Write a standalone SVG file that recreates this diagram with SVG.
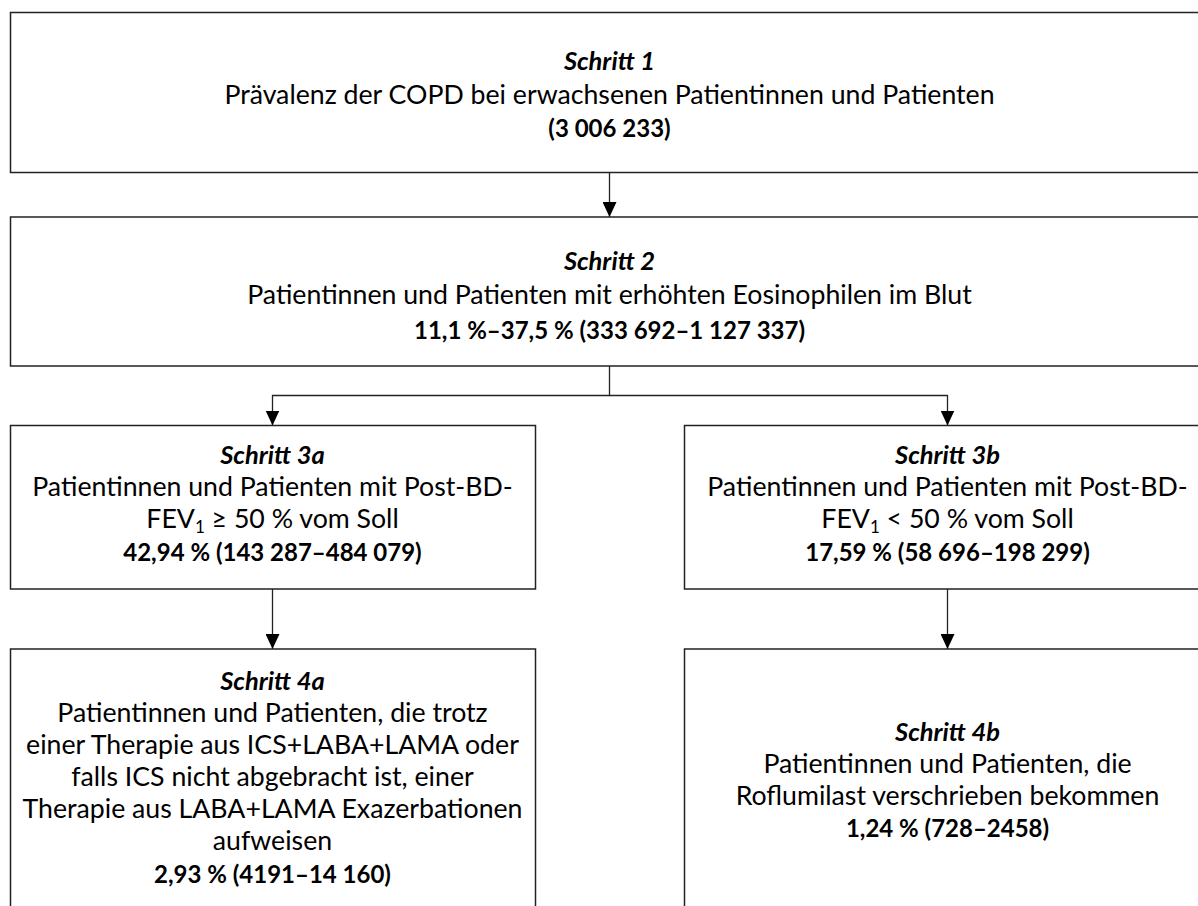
<svg xmlns="http://www.w3.org/2000/svg" width="1198" height="906" viewBox="0 0 1198 906">
<defs>
<marker id="ah" markerWidth="15" markerHeight="14" refX="15" refY="7" orient="auto" markerUnits="userSpaceOnUse" viewBox="0 0 15 14">
<path d="M0,0 L15,7 L0,14 Z" fill="#000"/>
</marker>
<style>
.box{fill:#fff;stroke:#222;stroke-width:1.5}
.conn{fill:none;stroke:#222;stroke-width:1.3}
text{font-family:Lato,"Open Sans","Liberation Sans",sans-serif;font-size:26.7px;fill:#000;text-anchor:middle}
.h{font-weight:bold;font-style:italic;font-size:25.5px}
.b{font-weight:bold;font-size:24px}
.sub{font-size:17px}
</style>
</defs>
<rect width="1198" height="906" fill="#fff"/>
<g id="connectors">
<line class="conn" x1="609.5" y1="173" x2="609.5" y2="217" marker-end="url(#ah)"/>
<polyline class="conn" points="609.5,366 609.5,395.5 272.5,395.5 272.5,425.5" marker-end="url(#ah)"/>
<polyline class="conn" points="609.5,395.5 947.5,395.5 947.5,425.5" marker-end="url(#ah)"/>
<line class="conn" x1="272.5" y1="589" x2="272.5" y2="649" marker-end="url(#ah)"/>
<line class="conn" x1="947.5" y1="589" x2="947.5" y2="649" marker-end="url(#ah)"/>
</g>
<g id="schritt1">
<rect class="box" x="10.5" y="12.5" width="1200" height="160"/>
<text class="h" x="609.5" y="70">Schritt 1</text>
<text x="609.5" y="104">Prävalenz der COPD bei erwachsenen Patientinnen und Patienten</text>
<text class="b" x="609.5" y="137">(3 006 233)</text>
</g>
<g id="schritt2">
<rect class="box" x="10.5" y="217" width="1200" height="149"/>
<text class="h" x="609.5" y="270">Schritt 2</text>
<text x="609.5" y="304">Patientinnen und Patienten mit erhöhten Eosinophilen im Blut</text>
<text class="b" x="609.5" y="339">11,1 %–37,5 % (333 692–1 127 337)</text>
</g>
<g id="schritt3a">
<rect class="box" x="10.5" y="425.5" width="525" height="163.5"/>
<text class="h" x="272.5" y="464">Schritt 3a</text>
<text x="272.5" y="496">Patientinnen und Patienten mit Post-BD-</text>
<text x="272.5" y="528">FEV<tspan class="sub" dy="5">1</tspan><tspan dy="-5"> ≥ 50 % vom Soll</tspan></text>
<text class="b" x="272.5" y="561">42,94 % (143 287–484 079)</text>
</g>
<g id="schritt3b">
<rect class="box" x="684.5" y="425.5" width="526" height="163.5"/>
<text class="h" x="947.5" y="464">Schritt 3b</text>
<text x="947.5" y="496">Patientinnen und Patienten mit Post-BD-</text>
<text x="947.5" y="528">FEV<tspan class="sub" dy="5">1</tspan><tspan dy="-5"> &lt; 50 % vom Soll</tspan></text>
<text class="b" x="947.5" y="561">17,59 % (58 696–198 299)</text>
</g>
<g id="schritt4a">
<rect class="box" x="10.5" y="649" width="525" height="270"/>
<text class="h" x="272.5" y="690">Schritt 4a</text>
<text x="272.5" y="722">Patientinnen und Patienten, die trotz</text>
<text x="272.5" y="754">einer Therapie aus ICS+LABA+LAMA oder</text>
<text x="272.5" y="786">falls ICS nicht abgebracht ist, einer</text>
<text x="272.5" y="818">Therapie aus LABA+LAMA Exazerbationen</text>
<text x="272.5" y="850">aufweisen</text>
<text class="b" x="272.5" y="883">2,93 % (4191–14 160)</text>
</g>
<g id="schritt4b">
<rect class="box" x="684.5" y="649" width="526" height="270"/>
<text class="h" x="947.5" y="741">Schritt 4b</text>
<text x="947.5" y="773">Patientinnen und Patienten, die</text>
<text x="947.5" y="805">Roflumilast verschrieben bekommen</text>
<text class="b" x="947.5" y="837">1,24 % (728–2458)</text>
</g>
</svg>
